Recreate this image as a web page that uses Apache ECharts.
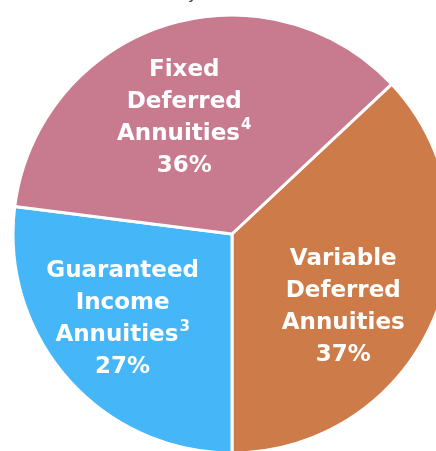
<!DOCTYPE html>
<html lang="en">
<head>
    <meta charset="UTF-8">
    <title>Annuity Sales Mix</title>
    <script src="https://cdn.jsdelivr.net/npm/echarts/dist/echarts.min.js"></script>
    <style>
        html, body { margin: 0; padding: 0; background: #ffffff; }
        #chart { width: 436px; height: 451px; }
    </style>
</head>
<body>
    <div id="chart"></div>
    <script>
        // Slice data, clockwise from the upper-right boundary
        var categories = ['Variable\nDeferred\nAnnuities', 'Guaranteed\nIncome\nAnnuities', 'Fixed\nDeferred\nAnnuities'];
        var footnotes = ['', '3', '4'];
        var shares = [37, 27, 36];
        var colors = ['#CE7B4A', '#45B7F8', '#C87B8F'];
        var labelOffsets = [[8, 28], [-25, 11], [-13, -9]];

        var chart = echarts.init(document.getElementById('chart'));

        var data = categories.map(function (name, i) {
            return {
                name: name,
                value: shares[i],
                itemStyle: { color: colors[i] },
                label: { offset: labelOffsets[i] }
            };
        });

        var option = {
            animation: false,
            // tail of the cropped title above the pie
            graphic: [{
                type: 'text',
                left: 188,
                top: -13,
                style: { text: 'y', fill: '#333', font: '16px "DejaVu Sans"' }
            }],
            series: [{
                type: 'pie',
                center: [232, 234],
                radius: 219,
                startAngle: 43.2,
                clockwise: true,
                itemStyle: { borderColor: '#ffffff', borderWidth: 3 },
                label: {
                    position: 'inside',
                    color: '#ffffff',
                    fontFamily: 'DejaVu Sans',
                    fontWeight: 'bold',
                    fontSize: 23,
                    lineHeight: 32,
                    align: 'center',
                    formatter: function (p) {
                        var lines = p.name.split('\n');
                        var i = p.dataIndex;
                        if (footnotes[i]) {
                            lines[lines.length - 1] += '{sup|' + footnotes[i] + '}';
                        }
                        return lines.join('\n') + '\n' + p.value + '%';
                    },
                    rich: {
                        sup: {
                            color: '#ffffff',
                            fontFamily: 'DejaVu Sans',
                            fontWeight: 'bold',
                            fontSize: 15,
                            lineHeight: 32,
                            verticalAlign: 'top',
                            padding: [0, 0, 9, 1]
                        }
                    }
                },
                labelLine: { show: false },
                emphasis: { disabled: true },
                data: data
            }]
        };

        chart.setOption(option);
    </script>
</body>
</html>
